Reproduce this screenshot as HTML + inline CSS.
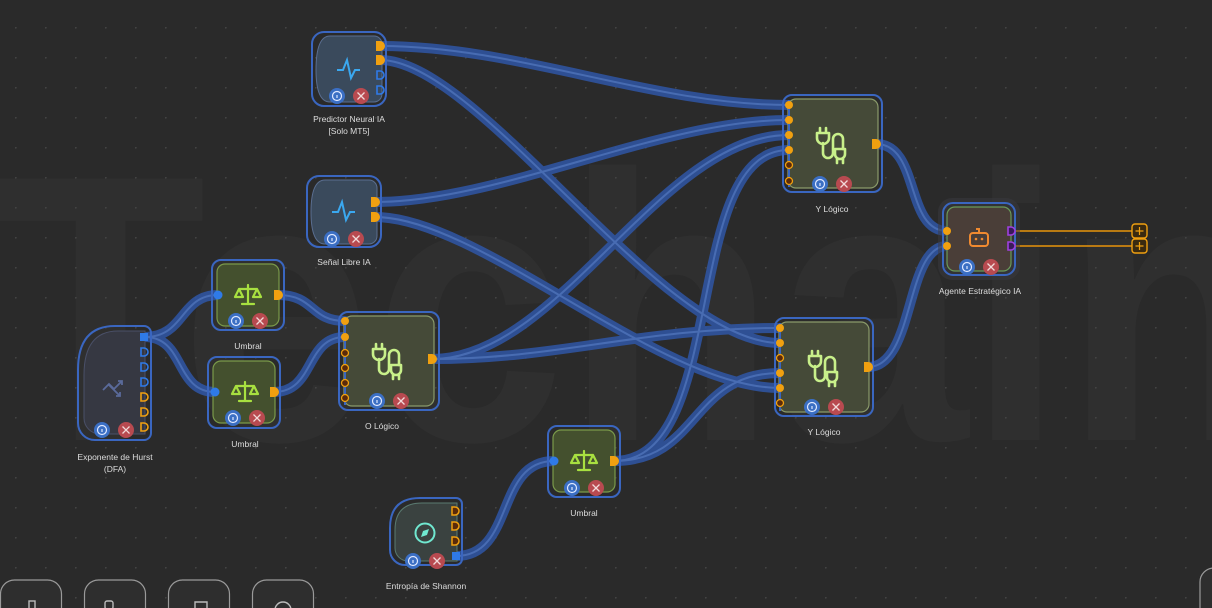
<!DOCTYPE html>
<html><head><meta charset="utf-8"><style>
html,body{margin:0;padding:0;background:#2a2a2a;}
svg{display:block}
text{font-family:"Liberation Sans",sans-serif;}
</style></head><body>
<svg width="1212" height="608" viewBox="0 0 1212 608" xmlns="http://www.w3.org/2000/svg">
<defs>
<pattern id="dots" x="15" y="27" width="30" height="30" patternUnits="userSpaceOnUse">
<circle cx="0.8" cy="0.8" r="0.9" fill="#444"/></pattern>
<g id="plug" fill="none" stroke="#c8f08a" stroke-width="2.6" stroke-linecap="round" stroke-linejoin="round">
<path d="M-10,-12 v-5 M-4,-12 v-5 M-13,-12 h12 v5 a5,5 0 0 1 -12,0 z M-7,-2 v10 a5,5 0 0 0 10,0 v-14 a5,5 0 0 1 10,0 v10"/>
<path d="M5,4 h10 v5 a5,5 0 0 1 -10,0 z M7,14 v4 M13,14 v4"/>
</g>
<g id="scale" fill="none" stroke="#a8e040" stroke-width="2.2" stroke-linecap="round" stroke-linejoin="round">
<path d="M0,-10 v18 M-6,9 h12 M-9,-6 h18 M-9,-6 l-4,8 h8 z M9,-6 l-4,8 h8 z"/>
</g>
<g id="btns">
<circle cx="0" cy="0" r="8" fill="#3b6fc4"/><circle cx="0" cy="0" r="4.5" fill="none" stroke="#dfe8ff" stroke-width="1.2"/><path d="M0,-1 v3" stroke="#dfe8ff" stroke-width="1.2"/>
<circle cx="24" cy="0" r="8" fill="#b84a50"/><path d="M20.5,-3.5 l7,7 M27.5,-3.5 l-7,7" stroke="#f2dada" stroke-width="1.3"/>
</g>
<g id="conns">
<path d="M380,46 C520,46 650,105 789,105"/>
<path d="M380,60 C480,60 660,343 780,343"/>
<path d="M375,202 C500,202 660,120 789,120"/>
<path d="M375,217 C480,217 660,388 780,388"/>
<path d="M432,359 C560,359 660,135 789,135"/>
<path d="M432,359 C560,359 640,328 780,328"/>
<path d="M614,461 C730,461 680,150 789,150"/>
<path d="M614,461 C700,461 690,373 780,373"/>
<path d="M145,337 C185,337 180,295 218,295"/>
<path d="M145,337 C185,337 175,392 215,392"/>
<path d="M278,295 C315,295 310,321 345,321"/>
<path d="M274,392 C315,392 305,337 345,337"/>
<path d="M456,556 C515,556 495,461 554,461"/>
<path d="M876,144 C920,144 905,231 947,231"/>
<path d="M868,367 C915,367 905,246 947,246"/>
</g>
</defs>
<rect width="1212" height="608" fill="#2a2a2a"/>
<text x="-5" y="440" font-size="380" font-weight="bold" fill="#2f2f2f" textLength="1280" lengthAdjust="spacingAndGlyphs">Techain</text>
<rect width="1212" height="608" fill="url(#dots)"/>

<g fill="none" stroke-linecap="round">
<use href="#conns" stroke="#2f56a6" stroke-width="10" opacity="0.85"/>
<use href="#conns" stroke="#5a80c8" stroke-width="2" opacity="0.6"/>
<path d="M1011,231 H1133 M1011,246 H1133" stroke="#e8940a" stroke-width="1.5"/>
</g>

<!-- Predictor Neural IA -->
<rect x="312" y="32" width="74" height="74" rx="12" fill="none" stroke="#3a66c0" stroke-width="2"/>
<path d="M330,36 H374 a8,8 0 0 1 8,8 V94 a8,8 0 0 1 -8,8 H330 Q316,102 316,70 Q316,36 330,36 z" fill="#3a4a5c" stroke="#5a6e90" stroke-width="1"/>
<path d="M337,70 h6 l4,-10 l4,18 l4,-8 h5" fill="none" stroke="#3aa8f0" stroke-width="2"/>
<use href="#btns" x="337" y="96"/>
<g fill="#f0a010"><path d="M376,41 h4 a5,5 0 0 1 0,10 h-4 z"/><path d="M376,55 h4 a5,5 0 0 1 0,10 h-4 z"/></g>
<g fill="none" stroke="#2f7ae8" stroke-width="1.6"><path d="M377,71 h3 a4,4 0 0 1 0,8 h-3 z"/><path d="M377,86 h3 a4,4 0 0 1 0,8 h-3 z"/></g>
<text x="349" y="122" font-size="8.5" fill="#ddd" text-anchor="middle">Predictor Neural IA</text>
<text x="349" y="134" font-size="8.5" fill="#ddd" text-anchor="middle">[Solo MT5]</text>

<!-- Señal Libre IA -->
<rect x="307" y="176" width="74" height="71" rx="12" fill="none" stroke="#3a66c0" stroke-width="2"/>
<path d="M325,180 H369 a8,8 0 0 1 8,8 V236 a8,8 0 0 1 -8,8 H325 Q311,244 311,212 Q311,180 325,180 z" fill="#3a4a5c" stroke="#5a6e90" stroke-width="1"/>
<path d="M332,212 h6 l4,-10 l4,18 l4,-8 h5" fill="none" stroke="#3aa8f0" stroke-width="2"/>
<use href="#btns" x="332" y="239"/>
<g fill="#f0a010"><path d="M371,197 h4 a5,5 0 0 1 0,10 h-4 z"/><path d="M371,212 h4 a5,5 0 0 1 0,10 h-4 z"/></g>
<text x="344" y="265" font-size="8.5" fill="#ddd" text-anchor="middle">Señal Libre IA</text>

<!-- Logic nodes -->
<g>
<rect x="783" y="95" width="99" height="97" rx="9" fill="none" stroke="#3a66c0" stroke-width="2"/>
<rect x="788" y="99" width="90" height="89" rx="8" fill="#454a38" stroke="#8a9a6a" stroke-width="1.2"/>
<line x1="789" y1="100" x2="789" y2="187" stroke="#3a66c0" stroke-width="2"/>
<use href="#plug" x="830" y="145"/>
<use href="#btns" x="820" y="184"/>
<g fill="#f0a010"><circle cx="789" cy="105" r="4"/><circle cx="789" cy="120" r="4"/><circle cx="789" cy="135" r="4"/><circle cx="789" cy="150" r="4"/></g>
<g fill="#5a2a0a" stroke="#f0a010" stroke-width="1.3"><circle cx="789" cy="165" r="3.5"/><circle cx="789" cy="181" r="3.5"/></g>
<path d="M872,139 h4 a5,5 0 0 1 0,10 h-4 z" fill="#f0a010"/>
<text x="832" y="212" font-size="8.5" fill="#ddd" text-anchor="middle">Y Lógico</text>
</g>
<g>
<rect x="775" y="318" width="98" height="98" rx="9" fill="none" stroke="#3a66c0" stroke-width="2"/>
<rect x="779" y="322" width="90" height="90" rx="8" fill="#454a38" stroke="#8a9a6a" stroke-width="1.2"/>
<line x1="780" y1="323" x2="780" y2="411" stroke="#3a66c0" stroke-width="2"/>
<use href="#plug" x="822" y="368"/>
<use href="#btns" x="812" y="407"/>
<g fill="#f0a010"><circle cx="780" cy="328" r="4"/><circle cx="780" cy="343" r="4"/><circle cx="780" cy="373" r="4"/><circle cx="780" cy="388" r="4"/></g>
<g fill="#5a2a0a" stroke="#f0a010" stroke-width="1.3"><circle cx="780" cy="358" r="3.5"/><circle cx="780" cy="403" r="3.5"/></g>
<path d="M864,362 h4 a5,5 0 0 1 0,10 h-4 z" fill="#f0a010"/>
<text x="824" y="435" font-size="8.5" fill="#ddd" text-anchor="middle">Y Lógico</text>
</g>
<g>
<rect x="339" y="312" width="100" height="98" rx="9" fill="none" stroke="#3a66c0" stroke-width="2"/>
<rect x="344" y="316" width="90" height="90" rx="8" fill="#454a38" stroke="#8a9a6a" stroke-width="1.2"/>
<line x1="345" y1="317" x2="345" y2="405" stroke="#3a66c0" stroke-width="2"/>
<use href="#plug" x="386" y="361"/>
<use href="#btns" x="377" y="401"/>
<g fill="#f0a010"><circle cx="345" cy="321" r="4"/><circle cx="345" cy="337" r="4"/></g>
<g fill="#5a2a0a" stroke="#f0a010" stroke-width="1.3"><circle cx="345" cy="353" r="3.5"/><circle cx="345" cy="368" r="3.5"/><circle cx="345" cy="383" r="3.5"/><circle cx="345" cy="398" r="3.5"/></g>
<path d="M428,354 h4 a5,5 0 0 1 0,10 h-4 z" fill="#f0a010"/>
<text x="382" y="429" font-size="8.5" fill="#ddd" text-anchor="middle">O Lógico</text>
</g>

<!-- Umbral nodes -->
<g>
<rect x="212" y="260" width="72" height="70" rx="9" fill="none" stroke="#3a66c0" stroke-width="2"/>
<rect x="217" y="264" width="62" height="62" rx="8" fill="#44502e" stroke="#7a9a4a" stroke-width="1.2"/>
<use href="#scale" x="248" y="295"/>
<use href="#btns" x="236" y="321"/>
<circle cx="218" cy="295" r="4.5" fill="#2f7ae8"/>
<path d="M274,290 h4 a5,5 0 0 1 0,10 h-4 z" fill="#f0a010"/>
<text x="248" y="349" font-size="8.5" fill="#ddd" text-anchor="middle">Umbral</text>
</g>
<g>
<rect x="208" y="357" width="72" height="71" rx="9" fill="none" stroke="#3a66c0" stroke-width="2"/>
<rect x="213" y="361" width="62" height="62" rx="8" fill="#44502e" stroke="#7a9a4a" stroke-width="1.2"/>
<use href="#scale" x="245" y="392"/>
<use href="#btns" x="233" y="418"/>
<circle cx="215" cy="392" r="4.5" fill="#2f7ae8"/>
<path d="M270,387 h4 a5,5 0 0 1 0,10 h-4 z" fill="#f0a010"/>
<text x="245" y="447" font-size="8.5" fill="#ddd" text-anchor="middle">Umbral</text>
</g>
<g>
<rect x="548" y="426" width="72" height="71" rx="9" fill="none" stroke="#3a66c0" stroke-width="2"/>
<rect x="553" y="430" width="62" height="62" rx="8" fill="#44502e" stroke="#7a9a4a" stroke-width="1.2"/>
<use href="#scale" x="584" y="461"/>
<use href="#btns" x="572" y="488"/>
<circle cx="554" cy="461" r="4.5" fill="#2f7ae8"/>
<path d="M610,456 h4 a5,5 0 0 1 0,10 h-4 z" fill="#f0a010"/>
<text x="584" y="516" font-size="8.5" fill="#ddd" text-anchor="middle">Umbral</text>
</g>

<!-- Hurst -->
<g>
<path d="M115,326 H144 a7,7 0 0 1 7,7 V433 a7,7 0 0 1 -7,7 H95 a17,17 0 0 1 -17,-17 V370 Q78,326 115,326 z" fill="none" stroke="#3a66c0" stroke-width="2"/>
<path d="M118,331 H145 V434 H100 a16,16 0 0 1 -16,-16 V375 Q84,331 118,331 z" fill="#363842" stroke="#4a5068" stroke-width="1"/>
<path d="M103,390 l6,-6 l5,5 l8,-8 M118,381 h4 v4 M108,384 l12,12 M120,392 v4 h-4" fill="none" stroke="#5a6a9a" stroke-width="1.8"/>
<use href="#btns" x="102" y="430"/>
<rect x="140" y="333" width="8" height="8" fill="#2f7ae8"/>
<g fill="none" stroke="#2f7ae8" stroke-width="1.6"><path d="M141,348 h3 a4,4 0 0 1 0,8 h-3 z"/><path d="M141,363 h3 a4,4 0 0 1 0,8 h-3 z"/><path d="M141,378 h3 a4,4 0 0 1 0,8 h-3 z"/></g>
<g fill="none" stroke="#f0a010" stroke-width="1.6"><path d="M141,393 h3 a4,4 0 0 1 0,8 h-3 z"/><path d="M141,408 h3 a4,4 0 0 1 0,8 h-3 z"/><path d="M141,423 h3 a4,4 0 0 1 0,8 h-3 z"/></g>
<text x="115" y="460" font-size="8.5" fill="#ddd" text-anchor="middle">Exponente de Hurst</text>
<text x="115" y="472" font-size="8.5" fill="#ddd" text-anchor="middle">(DFA)</text>
</g>

<!-- Shannon -->
<g>
<path d="M420,498 H456 a6,6 0 0 1 6,6 V559 a6,6 0 0 1 -6,6 H405 a15,15 0 0 1 -15,-15 V528 Q390,498 420,498 z" fill="none" stroke="#3a66c0" stroke-width="2"/>
<path d="M422,503 H457 V561 H408 a13,13 0 0 1 -13,-13 V530 Q395,503 422,503 z" fill="#3a4240" stroke="#5a7a70" stroke-width="1"/>
<circle cx="425" cy="533" r="9.5" fill="none" stroke="#70e8d0" stroke-width="2"/>
<path d="M429,529 l-2,6 l-6,2 l2,-6 z" fill="#70e8d0"/>
<use href="#btns" x="413" y="561"/>
<g fill="#5a2a0a" stroke="#f0a010" stroke-width="1.5"><path d="M452,507 h3 a4,4 0 0 1 0,8 h-3 z"/><path d="M452,522 h3 a4,4 0 0 1 0,8 h-3 z"/><path d="M452,537 h3 a4,4 0 0 1 0,8 h-3 z"/></g>
<rect x="452" y="552" width="8" height="8" fill="#2f7ae8"/>
<text x="426" y="589" font-size="8.5" fill="#ddd" text-anchor="middle">Entropía de Shannon</text>
</g>

<!-- Agente -->
<g>
<rect x="938" y="198" width="82" height="82" rx="14" fill="#3a3a40" opacity="0.5"/>
<rect x="943" y="203" width="72" height="72" rx="10" fill="none" stroke="#3a66c0" stroke-width="2"/>
<rect x="947" y="207" width="64" height="64" rx="8" fill="#4a3e38" stroke="#6a9a5a" stroke-width="1.2"/>
<g fill="none" stroke="#f08a30" stroke-width="2"><rect x="970" y="233" width="18" height="13" rx="3"/><path d="M979,233 v-4 h-3"/></g>
<circle cx="976" cy="239" r="1.3" fill="#f08a30"/><circle cx="982" cy="239" r="1.3" fill="#f08a30"/>
<use href="#btns" x="967" y="267"/>
<circle cx="947" cy="231" r="4" fill="#f0a010"/><circle cx="947" cy="246" r="4" fill="#f0a010"/>
<g fill="#3a1a5a" stroke="#a040e0" stroke-width="1.6"><path d="M1008,227 h3 a4,4 0 0 1 0,8 h-3 z"/><path d="M1008,242 h3 a4,4 0 0 1 0,8 h-3 z"/></g>
<text x="980" y="294" font-size="8.5" fill="#ddd" text-anchor="middle">Agente Estratégico IA</text>
<g fill="#3a2a10" stroke="#f0a010" stroke-width="1.4"><rect x="1132" y="224" width="15" height="14" rx="3"/><rect x="1132" y="239" width="15" height="14" rx="3"/></g>
<path d="M1135.5,231 h8 M1139.5,227 v8 M1135.5,246 h8 M1139.5,242 v8" stroke="#f0a010" stroke-width="1.2"/>
</g>

<!-- bottom toolbar -->
<g fill="#2e2e2e" stroke="#9a9a9a" stroke-width="1.2">
<rect x="0.5" y="580" width="61" height="50" rx="14"/>
<rect x="84.5" y="580" width="61" height="50" rx="14"/>
<rect x="168.5" y="580" width="61" height="50" rx="14"/>
<rect x="252.5" y="580" width="61" height="50" rx="14"/>
<rect x="1200" y="568" width="40" height="60" rx="14"/>
</g>
<g fill="none" stroke="#bbb" stroke-width="1.4">
<rect x="29" y="601" width="6" height="8"/><rect x="105" y="601" width="8" height="8" rx="2"/><path d="M195,608 v-6 h12 v6"/><circle cx="283" cy="610" r="8"/>
</g>
</svg>
</body></html>
